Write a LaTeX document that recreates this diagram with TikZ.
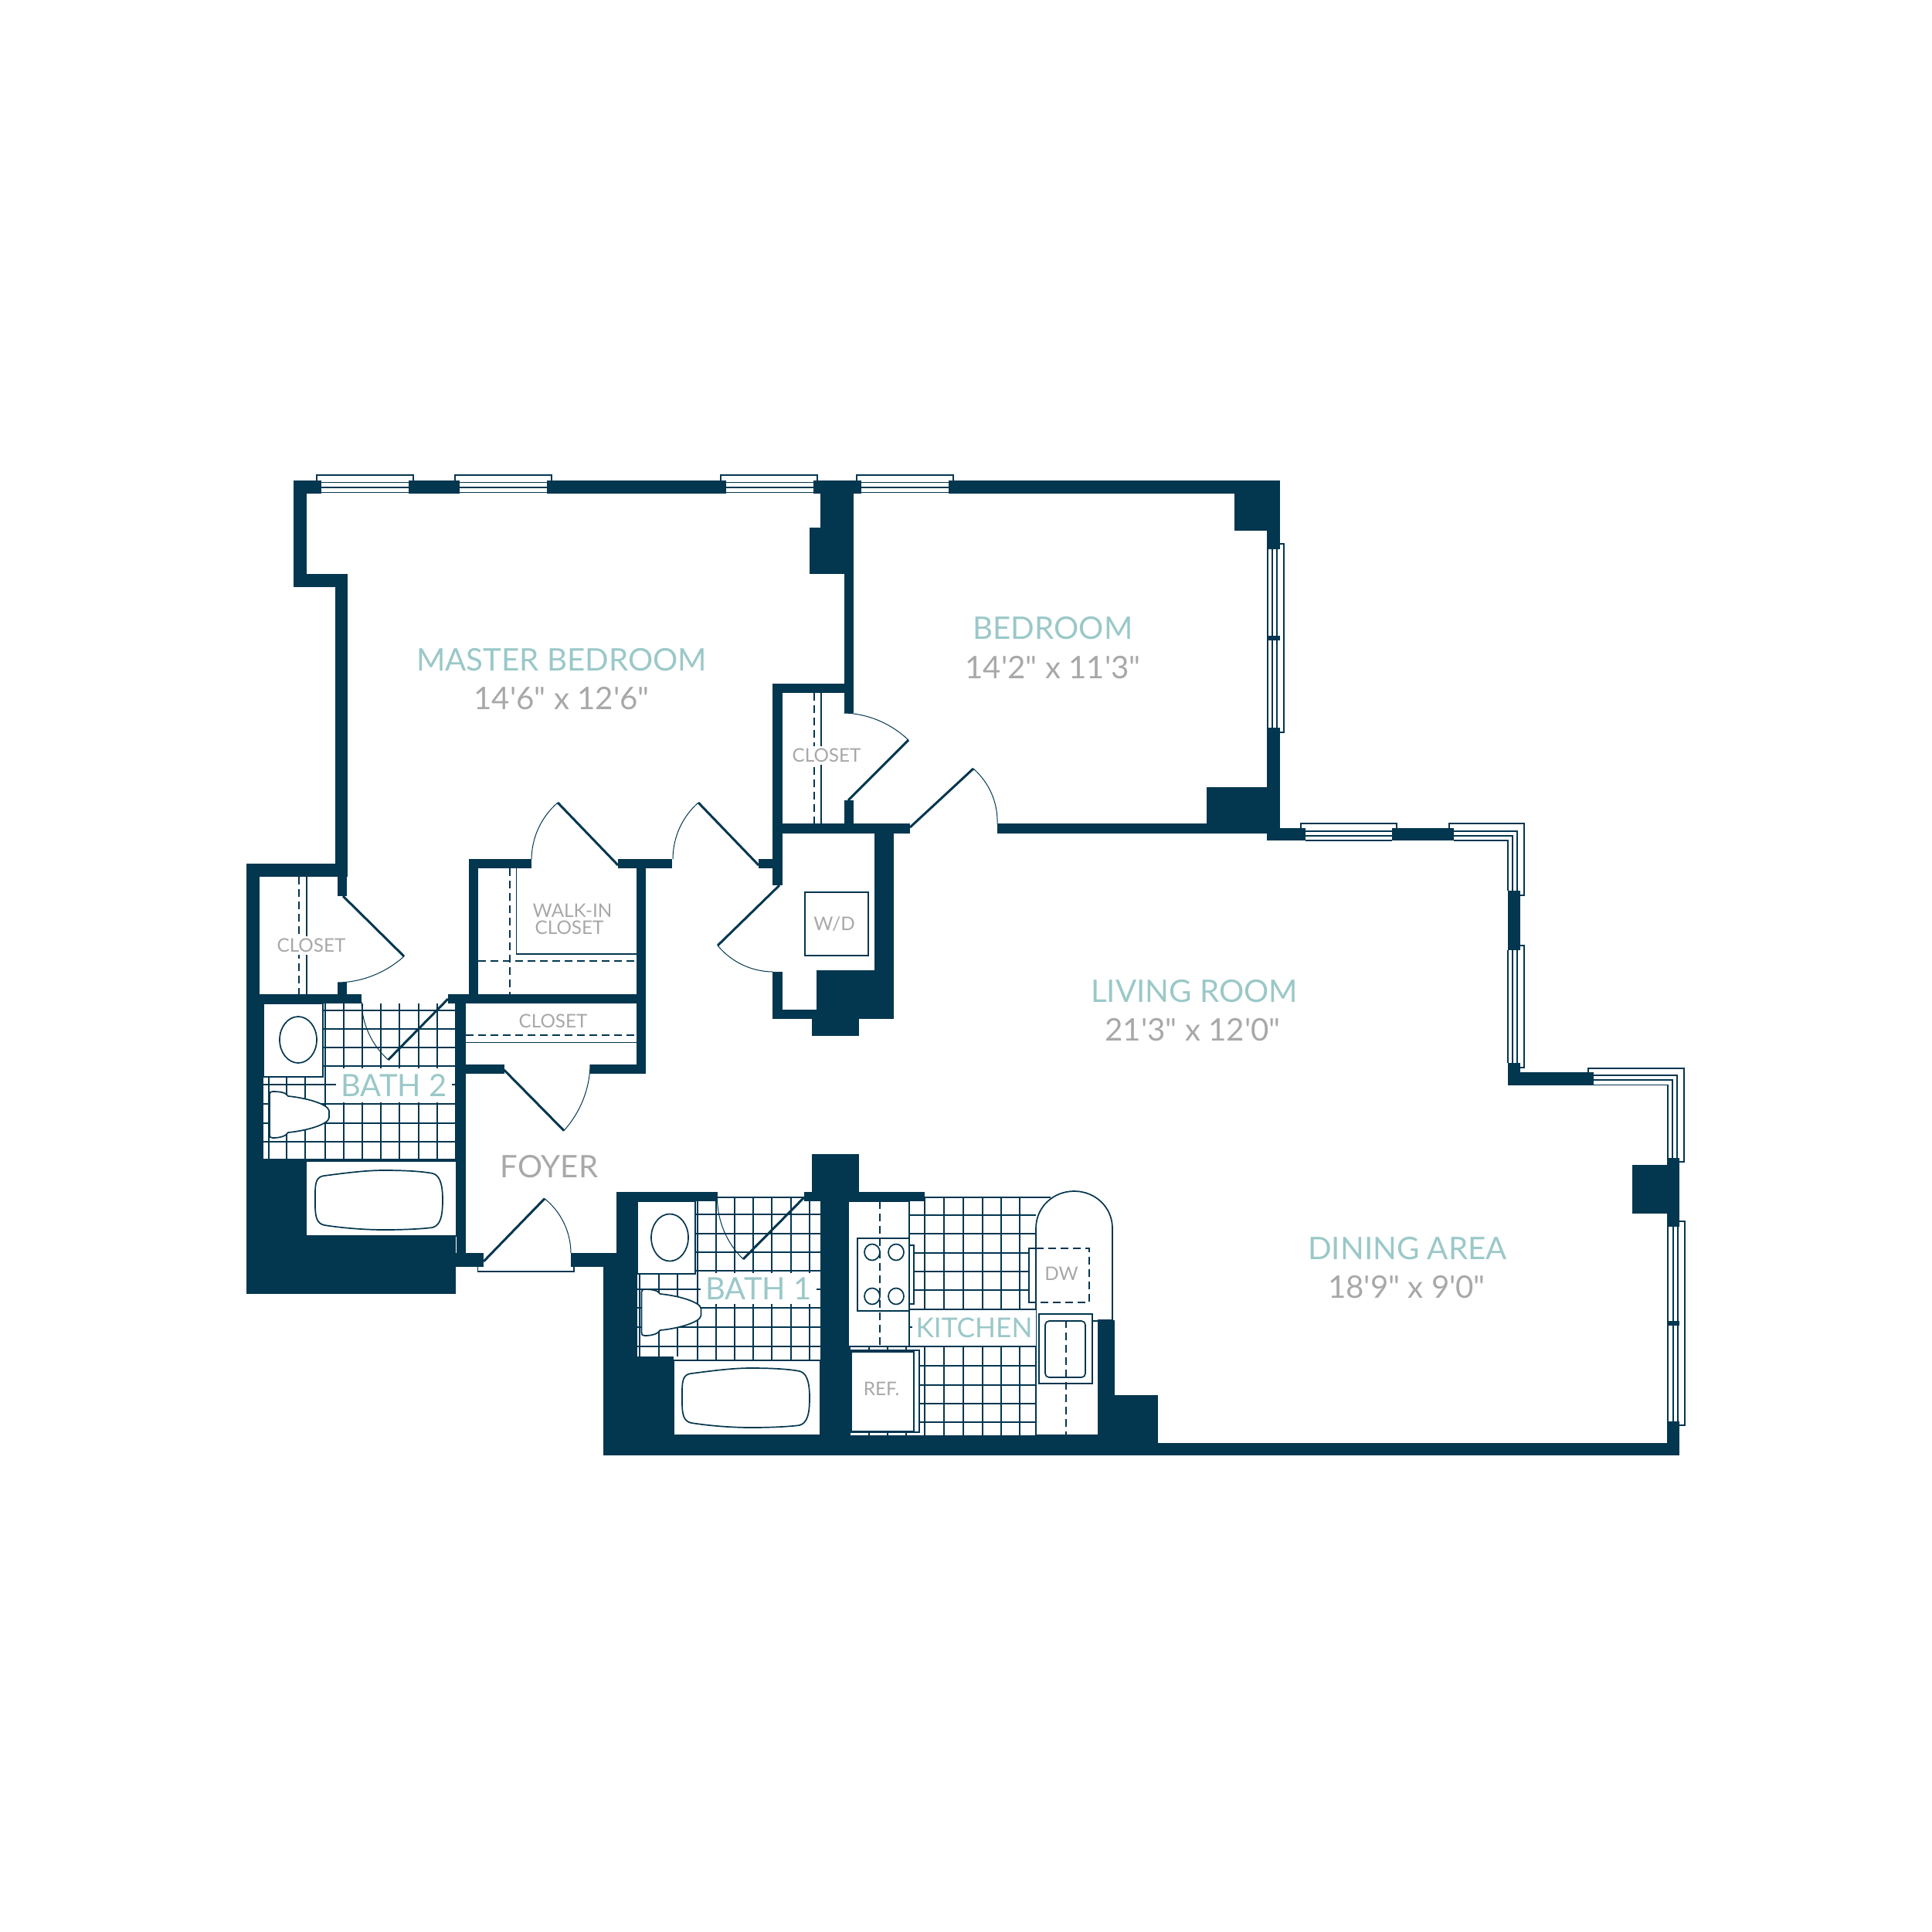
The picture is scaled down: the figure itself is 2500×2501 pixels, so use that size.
\documentclass[tikz,border=0pt]{standalone}
\usepackage{fontspec}
\setmainfont{Lato}[Ligatures=TeXOff]
\usetikzlibrary{calc}
\definecolor{wallblue}{RGB}{3,54,79}
\definecolor{roomteal}{RGB}{155,200,200}
\definecolor{dimgrey}{RGB}{168,168,168}
\tikzset{
  wall/.style={fill=wallblue},
  tile/.style={draw=wallblue, line width=.02cm},
  fixture/.style={draw=wallblue, fill=white, line width=.017cm},
  fitline/.style={draw=wallblue, line width=.017cm},
  dashline/.style={draw=wallblue, line width=.02cm, dash pattern=on .1cm off .06cm},
  winframe/.style={draw=wallblue, line width=.02cm},
  winline/.style={draw=wallblue, line width=.014cm},
  leaf/.style={draw=wallblue, line width=.03cm},
  swing/.style={draw=wallblue, line width=.01cm},
  roomname/.style={text=roomteal, inner sep=0pt, font=\fontsize{11.45}{14}\selectfont},
  roomsize/.style={text=dimgrey, inner sep=0pt, font=\fontsize{11.45}{14}\selectfont},
  smalllabel/.style={text=dimgrey, inner sep=0pt, font=\fontsize{6.9}{8}\selectfont},
  bathlabel/.style={text=roomteal, fill=white, inner sep=0pt, font=\fontsize{11.35}{14}\selectfont}
}
\newcommand{\doorswing}[3]{%
  \draw [leaf] #1 -- #2;%
  \draw [swing] #2 .. controls ($#2+0.375*#3-0.375*#1-0.265*#2+0.265*#1$) and ($#3+0.375*#2-0.375*#1-0.265*#3+0.265*#1$) .. #3;%
}
\begin{document}
\begin{tikzpicture}[x=.01cm,y=-.01cm]
  \useasboundingbox (0,0) rectangle (2500,2501);

  % Tiles of bath 2
  \draw [tile] (421,1299) -- (421,1501) (445,1299) -- (445,1501) (469,1299) -- (469,1501) (493,1299) -- (493,1501);
  \draw [tile] (517,1299) -- (517,1501) (542,1299) -- (542,1501) (566,1299) -- (566,1501);
  \draw [tile] (348,1394) -- (348,1500) (371,1394) -- (371,1500) (395,1394) -- (395,1500);
  \draw [tile] (418,1308) -- (589,1308) (418,1332) -- (589,1332) (418,1356) -- (589,1356) (418,1380) -- (589,1380);
  \draw [tile] (341,1404) -- (589,1404) (341,1429) -- (589,1429) (341,1454) -- (589,1454) (341,1478) -- (589,1478) (341,1501) -- (589,1501);

  % Tiles of bath 1
  \draw [tile] (903,1555) -- (903,1761) (927,1550) -- (927,1761) (951,1550) -- (951,1761) (975,1550) -- (975,1761);
  \draw [tile] (999,1550) -- (999,1761) (1024,1550) -- (1024,1761) (1048,1550) -- (1048,1761);
  \draw [tile] (828,1649) -- (828,1756) (853,1649) -- (853,1756) (877,1649) -- (877,1756);
  \draw [tile] (928,1550) -- (1041,1550) (900,1572) -- (1062,1572) (900,1597) -- (1062,1597) (900,1621) -- (1062,1621) (900,1645) -- (1062,1645);
  \draw [tile] (825,1669) -- (1062,1669) (825,1693) -- (1062,1693) (825,1718) -- (1062,1718) (825,1743) -- (1062,1743) (872,1761) -- (1062,1761);

  % Tiles of kitchen
  \draw [tile] (1197,1550) -- (1197,1858) (1222,1550) -- (1222,1858) (1247,1550) -- (1247,1858) (1272,1550) -- (1272,1858);
  \draw [tile] (1296,1550) -- (1296,1858) (1320,1550) -- (1320,1858) (1341,1590) -- (1341,1858);
  \draw [tile] (1125,1743) -- (1125,1858) (1149,1743) -- (1149,1858) (1173,1743) -- (1173,1858) (1100,1743) -- (1100,1858);
  \draw [tile] (1197,1550) -- (1360,1550) (1177,1573) -- (1341,1573) (1177,1597) -- (1341,1597) (1177,1622) -- (1341,1622) (1177,1646) -- (1341,1646);
  \draw [tile] (1177,1670) -- (1341,1670) (1177,1695) -- (1341,1695) (1177,1718) -- (1341,1718) (1100,1743) -- (1341,1743);
  \draw [tile] (1190,1768) -- (1341,1768) (1190,1793) -- (1341,1793) (1190,1817) -- (1341,1817) (1190,1841) -- (1341,1841);

  % Bath 2 vanity, toilet and tub
  \draw [fixture] (341,1299) rectangle (418,1394);
  \draw [fitline] (386,1346) ellipse (24 and 30);
  \draw [fixture] (349,1417) .. controls (349,1414) and (350,1413) .. (353,1413) .. controls (362,1413) and (370,1414) .. (373,1419) .. controls (395,1421) and (425,1429) .. (426,1438) -- (426,1447) .. controls (425,1456) and (395,1464) .. (373,1466) .. controls (370,1471) and (362,1473) .. (353,1473) .. controls (350,1473) and (349,1472) .. (349,1469) -- cycle;
  \draw [fixture] (396,1503) rectangle (591,1600);
  \draw [fixture] (408,1545) .. controls (408,1530) and (410,1523) .. (420,1522) .. controls (450,1518) and (475,1515) .. (497,1515) .. controls (520,1515) and (545,1516) .. (560,1519) .. controls (568,1521) and (573,1530) .. (573,1553) .. controls (573,1575) and (570,1586) .. (560,1589) .. controls (545,1591) and (520,1592) .. (497,1592) .. controls (475,1592) and (445,1590) .. (420,1586) .. controls (410,1584) and (408,1575) .. (408,1560) -- cycle;

  % Bath 1 vanity, toilet and tub
  \draw [fixture] (825,1555) rectangle (900,1649);
  \draw [fitline] (867,1602) ellipse (24 and 30.5);
  \draw [fixture] (830.5,1673) .. controls (830.5,1670) and (831.5,1669) .. (834.5,1669) .. controls (843.5,1669) and (851.5,1670) .. (854.5,1675) .. controls (876.5,1677) and (906.5,1685) .. (907.5,1694) -- (907.5,1703) .. controls (906.5,1712) and (876.5,1720) .. (854.5,1722) .. controls (851.5,1727) and (843.5,1729) .. (834.5,1729) .. controls (831.5,1729) and (830.5,1728) .. (830.5,1725) -- cycle;
  \draw [fixture] (872,1761) rectangle (1062,1858);
  \draw [fixture] (883,1801) .. controls (883,1786) and (885,1779) .. (895,1778) .. controls (925,1774) and (950,1771) .. (972,1771) .. controls (995,1771) and (1020,1772) .. (1035,1775) .. controls (1043,1777) and (1048,1786) .. (1048,1809) .. controls (1048,1831) and (1045,1842) .. (1035,1845) .. controls (1020,1847) and (995,1848) .. (972,1848) .. controls (950,1848) and (920,1846) .. (895,1842) .. controls (885,1840) and (883,1831) .. (883,1816) -- cycle;

  % Kitchen counter and stove
  \draw [fixture] (1098,1555) rectangle (1177,1743);
  \draw [dashline] (1139,1555) -- (1139,1743);
  \draw [fixture] (1177,1612) rectangle (1183,1688);
  \draw [fixture] (1110,1603) rectangle (1177,1697);
  \draw [dashline] (1139,1603) -- (1139,1697);
  \draw [fitline] (1129,1621) ellipse (10 and 10.5);
  \draw [fitline] (1160,1621) ellipse (10 and 10.5);
  \draw [fitline] (1129,1678) ellipse (10 and 10.5);
  \draw [fitline] (1160,1678) ellipse (10 and 10.5);

  % Refrigerator
  \draw [fixture] (1102,1748) rectangle (1190,1854);
  \draw [fixture] (1102,1750) rectangle (1183,1853);

  % Kitchen counter with round end, dishwasher and sink
  \draw [fixture] (1341,1858) -- (1341,1590) .. controls (1341,1563) and (1363,1542) .. (1390.5,1542) .. controls (1418,1542) and (1440,1563) .. (1440,1590) -- (1440,1709) -- (1422,1709) -- (1422,1858) -- cycle;
  \draw [fixture] (1332,1616) rectangle (1341,1686);
  \draw [dashline] (1341,1616) -- (1410,1616) -- (1410,1686) -- (1341,1686);
  \draw [fixture] (1345,1701) rectangle (1414,1791);
  \draw [fitline, rounded corners=.05cm] (1353,1710) rectangle (1405,1783);
  \draw [dashline] (1380,1709) -- (1380,1858);
  \draw [dashline] (1414,1710) -- (1422,1710);

  % Walk-in closet and closet shelves
  \draw [fitline] (668.5,1124) -- (668.5,1235) -- (824,1235);
  \draw [dashline] (660,1124) -- (660,1287);
  \draw [dashline] (619,1244) -- (824,1244);
  \draw [fitline] (397,1135) -- (397,1287);
  \draw [dashline] (387,1135) -- (387,1287);
  \draw [fitline] (603,1349.5) -- (824,1349.5);
  \draw [dashline] (603,1340) -- (824,1340);
  \draw [fitline] (1063,897) -- (1063,1066);
  \draw [dashline] (1054,897) -- (1054,1066);
  \draw [fixture] (1042,1155) rectangle (1124,1237);

  % Walls on top with gaps for windows
  \fill [wall] (380,622) rectangle (416,639);
  \fill [wall] (529,622) rectangle (595,639);
  \fill [wall] (708,622) rectangle (940,639);
  \fill [wall] (1053,622) rectangle (1115,639);
  \fill [wall] (1228,622) rectangle (1657,639);

  % Walls of master bedroom
  \fill [wall] (380,622) rectangle (397,760);
  \fill [wall] (380,743) rectangle (450,760);
  \fill [wall] (434,743) rectangle (450,1135);
  \fill [wall] (437,1135) rectangle (449,1160);
  \fill [wall] (1062,639) rectangle (1105,683);
  \fill [wall] (1048,683) rectangle (1105,743);
  \fill [wall] (1092.5,743) rectangle (1105,923);

  % Walls of closet and bath 2
  \fill [wall] (319,1118) rectangle (437,1135);
  \fill [wall] (319,1118) rectangle (336,1299);
  \fill [wall] (437,1272) rectangle (449,1287);
  \fill [wall] (319,1287) rectangle (468,1299);
  \fill [wall] (319,1299) rectangle (341,1500);
  \fill [wall] (319,1500) rectangle (396,1675);
  \fill [wall] (396,1600) rectangle (590,1675);
  \fill [wall] (580,1287) rectangle (836,1299);
  \fill [wall] (589,1299) rectangle (603,1503);
  \fill [wall] (591,1503) rectangle (603,1640);
  \fill [wall] (590,1622) rectangle (626,1640);

  % Walls of walk-in closet
  \fill [wall] (606.5,1112) rectangle (688,1124);
  \fill [wall] (800,1112) rectangle (870,1124);
  \fill [wall] (982,1112) rectangle (1000,1124);
  \fill [wall] (606.5,1112) rectangle (619,1287);
  \fill [wall] (824,1112) rectangle (836,1390);
  \fill [wall] (764,1378) rectangle (836,1390);
  \fill [wall] (603,1378) rectangle (652.5,1390);

  % Walls of closet and washer niche
  \fill [wall] (1000,885) rectangle (1105,897);
  \fill [wall] (1000,885) rectangle (1013,1146);
  \fill [wall] (1092.5,1036) rectangle (1105,1066);
  \fill [wall] (1000,1066) rectangle (1178,1079);
  \fill [wall] (1291,1066) rectangle (1640,1079);
  \fill [wall] (1132,1079) rectangle (1157,1319);
  \fill [wall] (1056.5,1256) rectangle (1132,1319);
  \fill [wall] (1000,1258) rectangle (1013,1319);
  \fill [wall] (1000,1307) rectangle (1057,1319);
  \fill [wall] (1051,1319) rectangle (1112,1341);

  % Walls of bedroom
  \fill [wall] (1598,639) rectangle (1657,687);
  \fill [wall] (1640,687) rectangle (1657,711);
  \fill [wall] (1640,823) rectangle (1657,829);
  \fill [wall] (1640,942) rectangle (1657,1088);
  \fill [wall] (1562,1019) rectangle (1640,1079);
  \fill [wall] (1640,1072) rectangle (1690,1088);

  % Walls of living room and dining area
  \fill [wall] (1802,1072) rectangle (1882,1088);
  \fill [wall] (1951.5,1153) rectangle (1968,1230);
  \fill [wall] (1951.5,1376) rectangle (1968,1404.5);
  \fill [wall] (1968,1388) rectangle (2062.6,1404.5);
  \fill [wall] (2158,1499) rectangle (2174,1588);
  \fill [wall] (2113,1508) rectangle (2158,1571);
  \fill [wall] (2158,1710) rectangle (2174,1716);
  \fill [wall] (2158,1840) rectangle (2174,1884);
  \fill [wall] (1443,1868) rectangle (2174,1884);
  \fill [wall] (1422,1709) rectangle (1443,1868);
  \fill [wall] (1443,1806) rectangle (1499,1868);

  % Walls of bath 1 and kitchen
  \fill [wall] (739,1622) rectangle (798,1640);
  \fill [wall] (798,1543) rectangle (928.5,1555);
  \fill [wall] (798,1543) rectangle (825,1756);
  \fill [wall] (781,1640) rectangle (825,1884);
  \fill [wall] (825,1756) rectangle (872,1858);
  \fill [wall] (781,1858) rectangle (1443,1884);
  \fill [wall] (1041,1543) rectangle (1098.6,1555);
  \fill [wall] (1062.4,1555) rectangle (1098.6,1858);
  \fill [wall] (1051,1494) rectangle (1112.4,1543);
  \fill [wall] (1098,1543) rectangle (1197,1555);

  % Windows along top wall
  \draw [winframe] (410,622) -- (410,615) -- (535,615) -- (535,622);
  \draw [winline] (416,624.5) -- (529,624.5) (416,631) -- (529,631) (416,637.5) -- (529,637.5);
  \draw [winframe] (589,622) -- (589,615) -- (714,615) -- (714,622);
  \draw [winline] (595,624.5) -- (708,624.5) (595,631) -- (708,631) (595,637.5) -- (708,637.5);
  \draw [winframe] (933,622) -- (933,615) -- (1058,615) -- (1058,622);
  \draw [winline] (940,624.5) -- (1053,624.5) (940,631) -- (1053,631) (940,637.5) -- (1053,637.5);
  \draw [winframe] (1109,622) -- (1109,615) -- (1234,615) -- (1234,622);
  \draw [winline] (1115,624.5) -- (1228,624.5) (1115,631) -- (1228,631) (1115,637.5) -- (1228,637.5);

  % Window of bedroom
  \draw [winframe] (1657,704) -- (1662,704) -- (1662,948) -- (1657,948);
  \draw [winline] (1641,711) -- (1641,942) (1647,711) -- (1647,942) (1653,711) -- (1653,942);

  % Windows of living room
  \draw [winframe] (1684,1072) -- (1684,1066) -- (1808,1066) -- (1808,1072);
  \draw [winline] (1690,1076) -- (1802,1076) (1690,1082) -- (1802,1082) (1690,1088) -- (1802,1088);
  \draw [winframe] (1875.6,1072) -- (1875.6,1066) -- (1973,1066) -- (1973,1159) -- (1968,1159);
  \draw [winline] (1882,1076) -- (1964,1076) -- (1964,1153) (1882,1082) -- (1958,1082) -- (1958,1153) (1882,1088) -- (1952,1088) -- (1952,1153);
  \draw [winframe] (1968,1224) -- (1973,1224) -- (1973,1381.6) -- (1968,1381.6);
  \draw [winline] (1952,1230) -- (1952,1376) (1958,1230) -- (1958,1376) (1964,1230) -- (1964,1376);

  % Windows of dining area
  \draw [winframe] (2056,1388) -- (2056,1383) -- (2180,1383) -- (2180,1504) -- (2174,1504);
  \draw [winline] (2062,1392) -- (2171,1392) -- (2171,1499) (2062,1398) -- (2165,1398) -- (2165,1499) (2062,1404.5) -- (2159,1404.5) -- (2159,1499);
  \draw [winframe] (2174,1581) -- (2181,1581) -- (2181,1845) -- (2174,1845);
  \draw [winline] (2159,1588) -- (2159,1840) (2166,1588) -- (2166,1840) (2172,1588) -- (2172,1840);

  % Doors, each from hinge to tip and swing to jamb
  \doorswing{(444,1160)}{(523,1238)}{(437,1272)}
  \doorswing{(580,1293)}{(502.5,1372)}{(468,1297)}
  \doorswing{(800,1120)}{(722,1039)}{(688,1112)}
  \doorswing{(982,1120)}{(904,1039)}{(871,1112)}
  \doorswing{(1098,1036)}{(1176,958)}{(1092.5,923)}
  \doorswing{(1178,1071)}{(1260,995)}{(1291,1066)}
  \doorswing{(1009,1146)}{(929,1224)}{(1000,1258)}
  \doorswing{(652.5,1385)}{(730,1463.6)}{(764,1378)}
  \doorswing{(626,1633)}{(705,1551.6)}{(739,1622)}
  \doorswing{(1041,1550)}{(962,1630)}{(928.5,1551)}

  % Entry threshold
  \draw [fitline] (618.6,1640) -- (618.6,1646) -- (743,1646) -- (743,1640);

  % Room names and sizes
  \node [roomname] (masterbedroom) at (727,854) {MASTER BEDROOM};
  \node [roomsize] (mastersize) at (727,904) {14'6" x 12'6"};
  \node [roomname] (bedroom) at (1363,813) {BEDROOM};
  \node [roomsize] (bedroomsize) at (1363,864) {14'2" x 11'3"};
  \node [roomname] (livingroom) at (1546,1283) {LIVING ROOM};
  \node [roomsize] (livingsize) at (1544,1333) {21'3" x 12'0"};
  \node [roomname] (diningarea) at (1822,1616) {DINING AREA};
  \node [roomsize] (diningsize) at (1821,1666) {18'9" x 9'0"};
  \node [roomsize, font=\fontsize{11.4}{13}\selectfont] (foyer) at (711,1510) {FOYER};

  % Labels that break the tile lines
  \node [bathlabel, minimum width=1.5cm, minimum height=.44cm] (bathtwo) at (510,1405) {BATH 2};
  \node [bathlabel, minimum width=1.5cm, minimum height=.4cm] (bathone) at (982,1668) {BATH 1};
  \node [bathlabel, minimum width=1.6cm, minimum height=.46cm, font=\fontsize{10.05}{12}\selectfont] (kitchen) at (1261,1719) {KITCHEN};

  % Small labels
  \node [smalllabel, fill=white, inner ysep=.03cm] (closeteast) at (403,1224) {CLOSET};
  \node [smalllabel, fill=white, inner ysep=.03cm] (closetmid) at (1070,978) {CLOSET};
  \node [smalllabel] (closetfoyer) at (716,1322) {CLOSET};
  \node [smalllabel] (walkin) at (741,1179) {WALK-IN};
  \node [smalllabel] (walkincloset) at (737,1201) {CLOSET};
  \node [smalllabel] (washer) at (1080,1196) {W/D};
  \node [smalllabel] (fridge) at (1141,1798) {REF.};
  \node [smalllabel] (dishwasher) at (1374,1649) {DW};
\end{tikzpicture}
\end{document}
